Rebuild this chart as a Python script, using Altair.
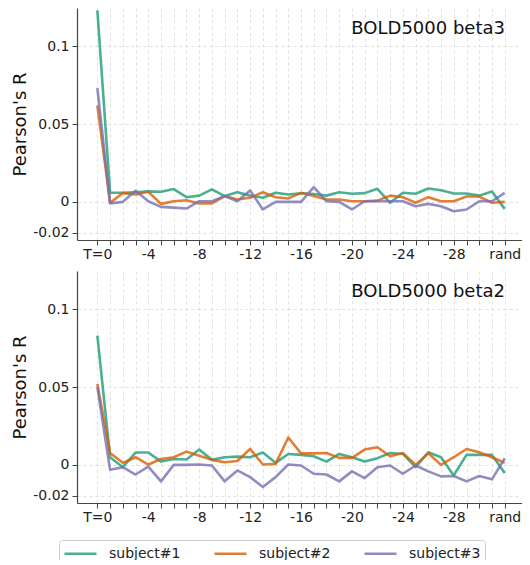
import json
import altair as alt
import pandas as pd

# ---- data ----
x_labels = ["T=0"] + [str(-k) for k in range(1, 32)] + ["rand"]
subjects = ["subject#1", "subject#2", "subject#3"]
colors = ["#1b9e77", "#d95f02", "#7570b3"]
y_ticks = [-0.02, 0, 0.05, 0.1]
y_tick_labels = ["-0.02", "0", "0.05", "0.1"]
panel_titles = ["BOLD5000 beta3", "BOLD5000 beta2"]

beta3_s1 = [0.123, 0.0058, 0.0058, 0.0062, 0.0067, 0.0065, 0.0082, 0.003, 0.004, 0.008, 0.0037,
            0.0062, 0.004, 0.0026, 0.0058, 0.0047, 0.0055, 0.005, 0.004, 0.0062, 0.0052, 0.0056,
            0.0084, -0.0006, 0.0058, 0.0052, 0.0086, 0.0075, 0.0054, 0.0054, 0.004, 0.0067, -0.0045]
beta3_s2 = [0.062, -0.0006, 0.0056, 0.0047, 0.0065, -0.0013, 0.0004, 0.001, -0.001, -0.001, 0.0037,
            0.0015, 0.0026, 0.0062, 0.003, 0.0022, 0.0058, 0.0037, 0.0015, 0.0015, 0.0004, 0.0004,
            0.0008, 0.004, 0.003, -0.0006, 0.003, 0.0004, 0.0004, 0.0034, 0.0034, -0.0006, 0.0]
beta3_s3 = [0.073, -0.001, 0.0, 0.0071, 0.0004, -0.0032, -0.0037, -0.0043, 0.0004, 0.0004, 0.0037,
            0.0004, 0.0073, -0.0049, 0.0, 0.0, 0.0, 0.0095, 0.0004, 0.0, -0.0049, 0.0004,
            0.0004, 0.0004, 0.0004, -0.0028, -0.0013, -0.0028, -0.006, -0.0049, 0.0004, 0.0004, 0.0058]

beta2_s1 = [0.083, 0.0049, -0.0015, 0.0079, 0.0079, 0.0021, 0.0038, 0.0034, 0.0098, 0.0032, 0.0049,
            0.0053, 0.0049, 0.0079, 0.0013, 0.007, 0.0064, 0.0055, 0.0021, 0.007, 0.0049, 0.0021,
            0.0043, 0.0076, 0.007, -0.0015, 0.0081, 0.0049, -0.0068, 0.0064, 0.0064, 0.0064, -0.0053]
beta2_s2 = [0.052, 0.0076, 0.0013, 0.0049, 0.0002, 0.0038, 0.0049, 0.0085, 0.0059, 0.0032, 0.0017,
            0.0025, 0.0102, 0.0002, 0.0006, 0.0176, 0.0074, 0.0074, 0.0076, 0.0045, 0.0045, 0.0098,
            0.0113, 0.0055, 0.0076, 0.0, 0.0074, 0.0, 0.0049, 0.0102, 0.0081, 0.0049, 0.0013]
beta2_s3 = [0.05, -0.0032, -0.0015, -0.0062, -0.0011, -0.0106, 0.0, 0.0, 0.0002, -0.0004, -0.0106,
            -0.0036, -0.0079, -0.0142, -0.0079, 0.0002, -0.0004, -0.0057, -0.0062, -0.0106, -0.0042, -0.0085,
            -0.0015, -0.0004, -0.0057, -0.0004, -0.0042, -0.0074, -0.0072, -0.0106, -0.0072, -0.0093, 0.0042]

panels_data = [[beta3_s1, beta3_s2, beta3_s3], [beta2_s1, beta2_s2, beta2_s3]]

FONT = "DejaVu Sans"
x_label_expr = ("datum.value % 4 == 0 ? " + json.dumps(x_labels) + "[datum.value] : ''")
y_label_expr = " : ".join(
    f"abs(datum.value - ({v})) < 1e-9 ? '{l}'" for v, l in zip(y_ticks, y_tick_labels)
) + " : ''"


def make_df(series):
    rows = []
    for subj, vals in zip(subjects, series):
        for i, v in enumerate(vals):
            rows.append({"idx": i, "value": v, "subject": subj})
    return pd.DataFrame(rows)


def panel(series, title):
    df = make_df(series)
    lines = alt.Chart(df).mark_line(
        strokeWidth=2.6, opacity=0.8, strokeJoin="round"
    ).encode(
        x=alt.X(
            "idx:Q",
            scale=alt.Scale(domain=[-1.6, 33.36], nice=False, zero=False),
            axis=alt.Axis(
                values=list(range(len(x_labels))),
                labelExpr=x_label_expr,
                labelOverlap=False,
                labelFlush=False,
                title=None,
                grid=True,
                gridDash=[3, 3],
                gridColor="#d9d9d9",
                gridWidth=0.8,
                tickSize=5,
                labelPadding=2,
            ),
        ),
        y=alt.Y(
            "value:Q",
            scale=alt.Scale(domain=[-0.0245, 0.1245], nice=False, zero=False),
            axis=alt.Axis(
                values=y_ticks,
                labelExpr=y_label_expr,
                title="Pearson's R",
                grid=True,
                gridDash=[3, 3],
                gridColor="#d9d9d9",
                gridWidth=0.8,
                tickSize=5,
                labelPadding=3,
                titlePadding=3,
            ),
        ),
        color=alt.Color(
            "subject:N",
            scale=alt.Scale(domain=subjects, range=colors),
            legend=alt.Legend(
                title=None,
                orient="none",
                legendX=-18,
                legendY=532,
                direction="horizontal",
                symbolType="M-2,0H2",
                symbolSize=256,
                symbolOffset=8,
                symbolStrokeWidth=2.6,
                symbolOpacity=0.8,
                labelFontSize=14,
                labelFont=FONT,
                labelColor="#222222",
                labelOffset=19,
                columnPadding=28,
                padding=4,
                strokeColor="#cccccc",
                cornerRadius=3,
                fillColor="white",
            ),
        ),
    )
    txt = alt.Chart(pd.DataFrame({"t": [title]})).mark_text(
        align="right", baseline="alphabetic", fontSize=18, font=FONT, color="#111111"
    ).encode(text="t:N", x=alt.value(428), y=alt.value(26))
    return alt.layer(lines, txt).properties(width=445, height=232)


chart = alt.vconcat(
    panel(panels_data[0], panel_titles[0]),
    panel(panels_data[1], panel_titles[1]),
    spacing=10,
).properties(
    padding={"left": 3, "top": 0, "right": 0, "bottom": -6}
).configure(
    font=FONT
).configure_view(
    stroke=None
).configure_axis(
    labelFont=FONT,
    titleFont=FONT,
    labelFontSize=14,
    titleFontSize=18,
    titleFontWeight="normal",
    labelColor="#222222",
    titleColor="#111111",
    domainColor="#444444",
    domainWidth=1.2,
    tickColor="#444444",
    tickWidth=1,
)

chart.save("out.html", embed_options={"renderer": "svg", "actions": False})
